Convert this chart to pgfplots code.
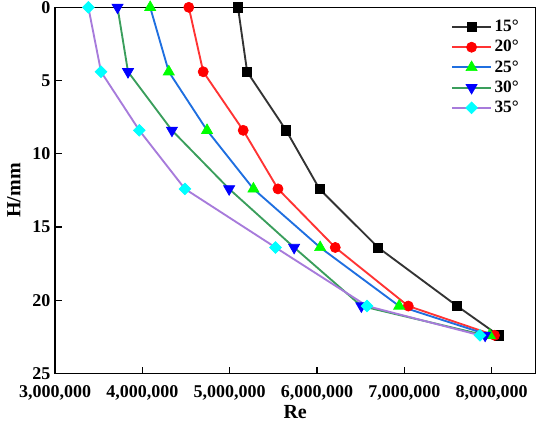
\documentclass[border=0pt]{standalone}
\usepackage{pgfplots}
\pgfplotsset{compat=1.18}
\usepackage{fontspec}
\setmainfont{Liberation Serif}
\definecolor{lblack}{HTML}{333333}
\definecolor{lred}{HTML}{FF3333}
\definecolor{lblue}{HTML}{1F6FE0}
\definecolor{lgreen}{HTML}{3A9E5C}
\definecolor{lpurple}{HTML}{A77BDB}
\definecolor{mcyan}{HTML}{00FFFF}
\definecolor{mgreen}{HTML}{00FF00}
\definecolor{mblue}{HTML}{0000FF}
\definecolor{mred}{HTML}{FF0000}
\begin{document}
\begin{tikzpicture}
\begin{axis}[
  scale only axis, width=360.2pt, height=274.5pt,
  xmin=3000000, xmax=8500000, ymin=0, ymax=25, y dir=reverse,
  xtick={3000000,4000000,5000000,6000000,7000000,8000000},
  ytick={0,5,10,15,20,25},
  scaled x ticks=false,
  xticklabel={\pgfmathprintnumber[fixed,1000 sep={,},assume math mode=true]{\tick}},
  yticklabel={\pgfmathprintnumber[assume math mode=true]{\tick}},
  tick label style={font=\bfseries\fontsize{13.5}{15}\selectfont},
  xticklabel style={yshift=-5.5pt},
  label style={font=\bfseries\fontsize{15}{17}\selectfont},
  xlabel={Re}, ylabel={H/mm},
  xlabel style={at={(axis description cs:0.5,0)}, anchor=center, yshift=-29pt},
  ylabel style={at={(axis description cs:0,0.5)}, anchor=center, yshift=30.75pt},
  tick align=inside, tick pos=left,
  major tick length=5pt,
  axis line style={line width=1.1pt},
  every tick/.style={black, line width=0.9pt},
  legend cell align=left,
  legend style={at={(axis description cs:0.98,0.98)}, anchor=north east, draw=none, fill=none,
    font=\bfseries\fontsize{13}{15}\selectfont, row sep=1pt},
  legend image code/.code={\draw[mark repeat=2,mark phase=2,#1] plot coordinates {(0pt,0pt) (14.5pt,0pt) (29pt,0pt)};},
  every axis plot/.append style={line width=1.4pt},
]
\addplot[color=lblack, mark=square*, mark size=3.4pt, mark options={fill=black, draw=black, line width=0.5pt}]
coordinates {(5095000,0) (5200000,4.4) (5646000,8.4) (6028000,12.4) (6699000,16.4) (7604000,20.4) (8078000,22.4)};
\addlegendentry{15°}
\addplot[color=lred, mark=*, mark size=3.8pt, mark options={fill=mred, draw=mred, line width=0.5pt}]
coordinates {(4532000,0) (4697000,4.4) (5155000,8.4) (5553000,12.4) (6209000,16.4) (7045000,20.4) (8033000,22.4)};
\addlegendentry{20°}
\addplot[color=lblue, mark=triangle*, mark size=4.8pt, mark options={fill=mgreen, draw=mgreen, line width=0.5pt}]
coordinates {(4090000,0) (4303000,4.4) (4741000,8.4) (5272000,12.4) (6036000,16.4) (6941000,20.4) (7978000,22.4)};
\addlegendentry{25°}
\addplot[color=lgreen, mark=triangle*, mark size=4.8pt, mark options={rotate=180, fill=mblue, draw=mblue, line width=0.5pt}]
coordinates {(3716000,0) (3836000,4.4) (4339000,8.4) (4994000,12.4) (5738000,16.4) (6508000,20.4) (7925000,22.4)};
\addlegendentry{30°}
\addplot[color=lpurple, mark=diamond*, mark size=4.4pt, mark options={xscale=1.33, fill=mcyan, draw=mcyan, line width=0.5pt}]
coordinates {(3382000,0) (3527000,4.4) (3965000,8.4) (4488000,12.4) (5525000,16.4) (6573000,20.4) (7866000,22.4)};
\addlegendentry{35°}
\end{axis}
\pgfresetboundingbox
\path (current axis.south west) ++(-41.25pt,-47pt);
\path (current axis.north east) ++(11pt,5.5pt);
\end{tikzpicture}
\end{document}
